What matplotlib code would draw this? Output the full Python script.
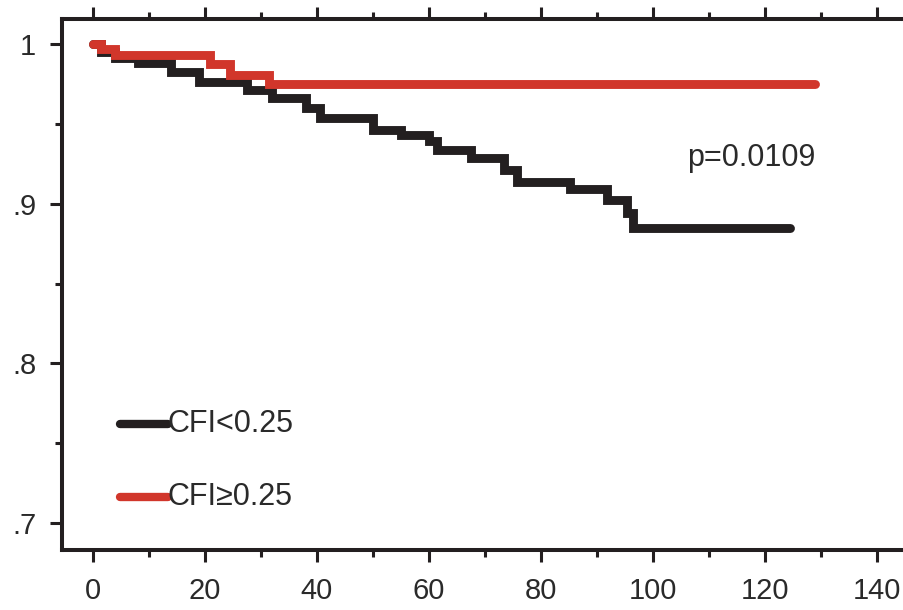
import matplotlib
matplotlib.use("Agg")
import matplotlib.pyplot as plt
from matplotlib.ticker import MultipleLocator, FixedLocator

plt.rcParams['font.family'] = ['Liberation Sans', 'DejaVu Sans']

# Kaplan-Meier estimates, read as (time, survival) step points
low_t = [0, 1.5, 4, 8, 14, 19, 27.5, 32, 38, 40.5, 50, 55, 60, 61.5, 67.5,
         73.5, 75.8, 85.2, 91.8, 95.4, 96.5, 124.5]
low_s = [1.0, 0.995, 0.991, 0.988, 0.9825, 0.976, 0.971, 0.966, 0.960, 0.9535,
         0.946, 0.943, 0.939, 0.9336, 0.9286, 0.921, 0.9138, 0.909, 0.902,
         0.894, 0.8846, 0.8846]

high_t = [0, 1.5, 4, 21, 24.5, 31.5, 129]
high_s = [1.0, 0.997, 0.993, 0.9875, 0.9806, 0.975, 0.975]

labels = ['CFI<0.25', 'CFI\u22650.25']
p_text = 'p=0.0109'
ytick_vals = [0.7, 0.8, 0.9, 1.0]
ytick_labels = ['.7', '.8', '.9', '1']

BLACK = '#231f20'
RED = '#d1362b'
TEXT = '#2a2a2a'

fig = plt.figure(figsize=(9.04, 6.10), dpi=100)
# axes run past the right edge, so the right frame is cut off
ax = fig.add_axes([0.0686, 0.0984, 0.949, 0.8705])

ax.plot(low_t, low_s, drawstyle='steps-post', color=BLACK, lw=6.4,
        solid_capstyle='round', solid_joinstyle='miter')
ax.plot(high_t, high_s, drawstyle='steps-post', color=RED, lw=6.4,
        solid_capstyle='round', solid_joinstyle='miter')

ax.set_xlim(-5.5, 147.7)
ax.set_ylim(0.6832, 1.01565)

ax.xaxis.set_major_locator(MultipleLocator(20))
ax.xaxis.set_minor_locator(MultipleLocator(10))
ax.yaxis.set_major_locator(FixedLocator(ytick_vals))
ax.yaxis.set_minor_locator(MultipleLocator(0.05))
ax.set_yticklabels(ytick_labels)

for side in ax.spines.values():
    side.set_linewidth(2.9)
    side.set_color(BLACK)

ax.tick_params(which='both', direction='out', width=2.2, color=BLACK,
               top=True, right=False, labelsize=21, labelcolor=TEXT)
ax.tick_params(which='major', length=8.6)
ax.tick_params(which='minor', length=5)
ax.tick_params(axis='x', pad=11)
ax.tick_params(axis='y', pad=10)

# legend keys with labels
for yk, col, lab in [(0.2373, BLACK, labels[0]), (0.0998, RED, labels[1])]:
    ax.plot([0.0676, 0.1235], [yk, yk], transform=ax.transAxes, color=col,
            lw=6.0, solid_capstyle='round')
    ax.text(0.1235, yk, lab, transform=ax.transAxes, ha='left', va='center',
            fontsize=22, color=TEXT)

ax.text(0.7284, 0.738, p_text, transform=ax.transAxes, ha='left',
        va='center', fontsize=22, color=TEXT)

fig.savefig('out.png', dpi=100)
